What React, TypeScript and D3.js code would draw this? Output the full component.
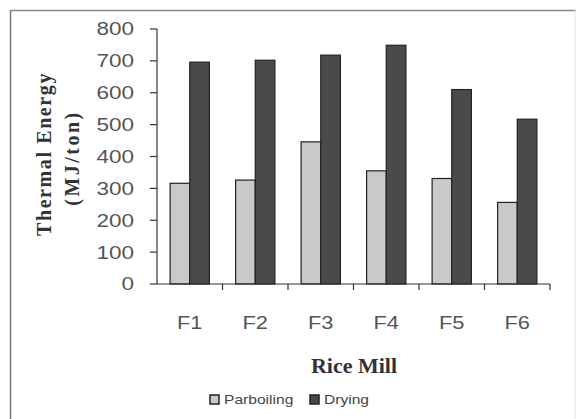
import React from "react";
import * as d3 from "d3";

const mills = ["F1", "F2", "F3", "F4", "F5", "F6"];
const parboiling = [316, 326, 446, 355, 331, 256];
const drying = [696, 702, 718, 749, 610, 517];
const yTicks = [0, 100, 200, 300, 400, 500, 600, 700, 800];
const seriesNames = ["Parboiling", "Drying"];

const width = 576;
const height = 419;
const left = 157;
const right = 550;
const top = 29;
const bottom = 284;

const sans = "Liberation Sans, Arial, sans-serif";
const serif = "Liberation Serif, Times New Roman, serif";

// wide-looking text, like the scanned original
function Wide(props: {
  x: number;
  y: number;
  sx: number;
  anchor?: string;
  size: number;
  fill: string;
  dy?: string;
  children: React.ReactNode;
}) {
  return (
    <g transform={`translate(${props.x},${props.y}) scale(${props.sx},1)`}>
      <text
        textAnchor={props.anchor || "start"}
        dy={props.dy}
        fontFamily={sans}
        fontSize={props.size}
        fill={props.fill}
      >
        {props.children}
      </text>
    </g>
  );
}

export default function App() {
  const x = d3.scaleBand().domain(mills).range([left, right]);
  const y = d3.scaleLinear().domain([0, 800]).range([bottom, top]);
  const barW = x.bandwidth() * 0.3;
  const colors = ["#c9c9c9", "#4a4a4a"];
  const series = [parboiling, drying];

  return (
    <svg
      width={width}
      height={height}
      style={{ position: "absolute", left: 0, top: 0, background: "#fff" }}
    >
      {/* outer frame */}
      <line x1={10.5} y1={10} x2={10.5} y2={height} stroke="#777" strokeWidth={1.5} />
      <line x1={10} y1={10.5} x2={width} y2={10.5} stroke="#888" strokeWidth={1.5} />
      <line x1={575} y1={10} x2={575} y2={height} stroke="#e2e2e2" strokeWidth={1} />

      {/* bars */}
      {mills.map((m, i) => {
        const cx = (x(m) as number) + x.bandwidth() / 2;
        return series.map((s, k) => (
          <rect
            key={m + k}
            x={cx - barW + k * barW}
            y={y(s[i])}
            width={barW}
            height={bottom - y(s[i])}
            fill={colors[k]}
            stroke="#222"
            strokeWidth={1.2}
          />
        ));
      })}

      {/* y axis */}
      <line x1={left} y1={top} x2={left} y2={bottom} stroke="#333" strokeWidth={1.2} />
      {yTicks.map((t) => (
        <g key={t}>
          <line x1={left - 7} x2={left} y1={y(t)} y2={y(t)} stroke="#333" strokeWidth={1.2} />
          <Wide x={134} y={y(t)} sx={1.25} anchor="end" dy="0.36em" size={18} fill="#555">
            {t}
          </Wide>
        </g>
      ))}

      {/* x axis */}
      <line x1={left} y1={bottom} x2={right} y2={bottom} stroke="#333" strokeWidth={1.2} />
      {mills.map((m) => (
        <line
          key={"t" + m}
          x1={(x(m) as number) + x.bandwidth()}
          x2={(x(m) as number) + x.bandwidth()}
          y1={bottom}
          y2={bottom + 6}
          stroke="#333"
          strokeWidth={1.2}
        />
      ))}
      {mills.map((m) => (
        <Wide
          key={"l" + m}
          x={(x(m) as number) + x.bandwidth() / 2}
          y={329}
          sx={1.15}
          anchor="middle"
          size={19}
          fill="#555"
        >
          {m}
        </Wide>
      ))}

      {/* axis titles */}
      <text
        transform="translate(51,154) rotate(-90)"
        textAnchor="middle"
        fontFamily={serif}
        fontWeight="bold"
        fontSize={20}
        letterSpacing={1.6}
        fill="#333"
      >
        Thermal Energy
      </text>
      <text
        transform="translate(79,158) rotate(-90)"
        textAnchor="middle"
        fontFamily={serif}
        fontWeight="bold"
        fontSize={20}
        letterSpacing={2.5}
        fill="#333"
      >
        (MJ/ton)
      </text>
      <text
        x={354}
        y={373}
        textAnchor="middle"
        fontFamily={serif}
        fontWeight="bold"
        fontSize={22}
        fill="#333"
      >
        Rice Mill
      </text>

      {/* legend */}
      {seriesNames.map((name, k) => {
        const lx = k === 0 ? 210 : 310;
        return (
          <g key={name}>
            <rect x={lx} y={395} width={9} height={9} fill={colors[k]} stroke="#222" strokeWidth={1.5} />
            <Wide x={lx + 14} y={404} sx={1.2} size={13} fill="#444">
              {name}
            </Wide>
          </g>
        );
      })}
    </svg>
  );
}
